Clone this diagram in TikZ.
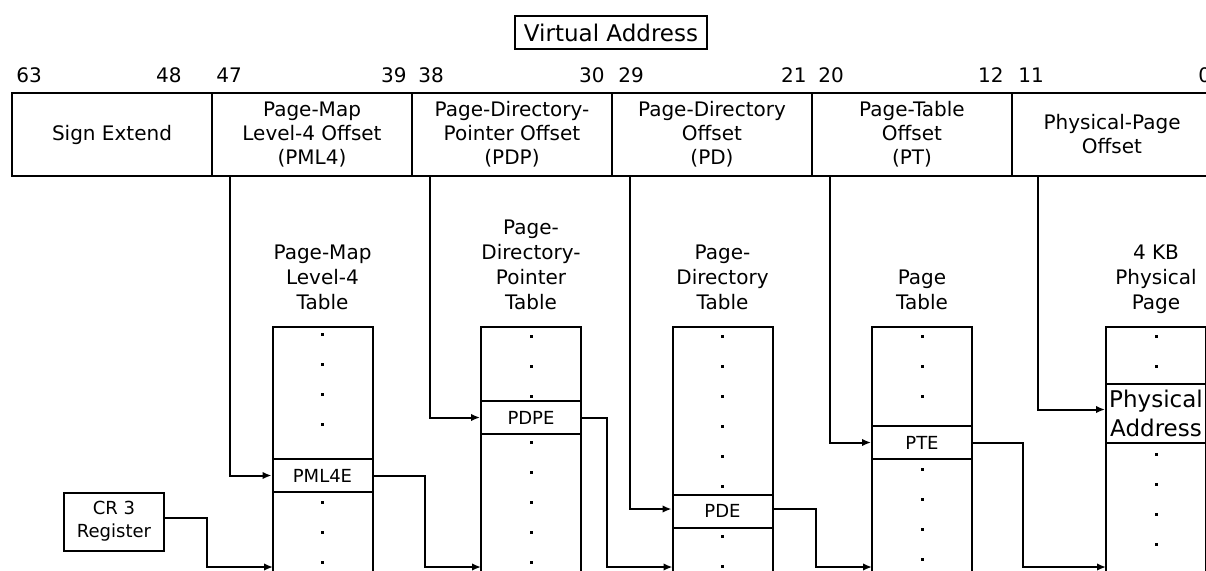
\documentclass[tikz,border=0pt]{standalone}
\usepackage{fontspec}
\setmainfont{DejaVu Sans}
\usetikzlibrary{arrows.meta}

\begin{document}
\begin{tikzpicture}[
  x=0.5pt, y=-0.5pt,
  every node/.style={align=center, font=\fontsize{10}{12}\selectfont},
  field/.style={draw, line width=1pt, minimum width=100pt,
                minimum height=41.5pt, inner sep=0pt},
  bitno/.style={inner sep=0pt},
  title/.style={anchor=south, inner sep=0pt,
                font=\fontsize{10}{12.5}\selectfont, execute at end node=\strut},
  tblbox/.style={draw, line width=1pt, anchor=north, minimum width=50pt,
                 minimum height=150pt},
  entry/.style={draw, line width=1pt, minimum width=50pt, minimum height=16.5pt,
                inner sep=0pt, font=\fontsize{9}{11}\selectfont},
  regbox/.style={draw, line width=1pt, minimum width=50pt, minimum height=29pt,
                 inner sep=0pt, font=\fontsize{9}{11.5}\selectfont},
  arr/.style={-{Latex[length=4.5pt,width=3.8pt]}, line width=1pt}
]
  \useasboundingbox (0,0) rectangle (1206,570);
  \clip (0,0) rectangle (1206,570);

  % virtual address
  \node[draw, line width=1pt, inner xsep=4.5pt, minimum height=16.5pt,
        font=\fontsize{11.5}{14}\selectfont] (va) at (611,32.5) {Virtual Address};

  \node[bitno, anchor=base west] (b63) at (16,82) {63};
  \node[bitno, anchor=base east] (b48) at (182,82) {48};
  \node[bitno, anchor=base west] (b47) at (216,82) {47};
  \node[bitno, anchor=base east] (b39) at (407,82) {39};
  \node[bitno, anchor=base west] (b38) at (418,82) {38};
  \node[bitno, anchor=base east] (b30) at (605,82) {30};
  \node[bitno, anchor=base west] (b29) at (618,82) {29};
  \node[bitno, anchor=base east] (b21) at (807,82) {21};
  \node[bitno, anchor=base west] (b20) at (818,82) {20};
  \node[bitno, anchor=base east] (b12) at (1004,82) {12};
  \node[bitno, anchor=base west] (b11) at (1018,82) {11};
  \node[bitno, anchor=base west] (b0) at (1198,82) {0};

  \node[field] (sign) at (112,134.5) {Sign Extend};
  \node[field] (pml4) at (312,134.5) {Page-Map\\Level-4 Offset\\(PML4)};
  \node[field] (pdp) at (512,134.5) {Page-Directory-\\Pointer Offset\\(PDP)};
  \node[field] (pd) at (712,134.5) {Page-Directory\\Offset\\(PD)};
  \node[field] (pt) at (912,134.5) {Page-Table\\Offset\\(PT)};
  \node[field] (ppo) at (1112,134.5) {Physical-Page\\Offset};

  % tables
  \node[tblbox] (pml4tab) at (322.5,326) {};
  \node[tblbox] (pdptab) at (531,326) {};
  \node[tblbox] (pdtab) at (722.5,326) {};
  \node[tblbox] (pttab) at (922,326) {};
  \node[tblbox] (phystab) at (1156,326) {};

  \node[title] (pml4tit) at (322.5,317) {Page-Map\\Level-4\\Table};
  \node[title] (pdptit) at (531,317) {Page-\\Directory-\\Pointer\\Table};
  \node[title] (pdtit) at (722.5,317) {Page-\\Directory\\Table};
  \node[title] (pttit) at (922,317) {Page\\Table};
  \node[title] (phystit) at (1156,317) {4 KB\\Physical\\Page};

  \node[entry] (pml4e) at (322.5,475.5) {PML4E};
  \node[entry] (pdpe) at (531,417.5) {PDPE};
  \node[entry] (pde) at (722.5,511) {PDE};
  \node[entry] (pte) at (922,442.5) {PTE};
  \node[entry, minimum height=29.5pt, font=\fontsize{11.5}{14.5}\selectfont]
    (pa) at (1156,413.5) {Physical\\Address};

  \foreach \y in {334,364,394,424,502,532,562}
    \fill (322.5,\y) +(-1.5,-1.5) rectangle +(1.5,1.5);
  \foreach \y in {336,366,396,442,472,502,532,562}
    \fill (531,\y) +(-1.5,-1.5) rectangle +(1.5,1.5);
  \foreach \y in {336,366,396,426,456,486,536,566}
    \fill (722.5,\y) +(-1.5,-1.5) rectangle +(1.5,1.5);
  \foreach \y in {336,366,396,469,499,529,559}
    \fill (922,\y) +(-1.5,-1.5) rectangle +(1.5,1.5);
  \foreach \y in {336,366,454,484,514,544}
    \fill (1156,\y) +(-1.5,-1.5) rectangle +(1.5,1.5);

  \node[regbox] (cr3) at (114,521.5) {CR 3\\Register};

  % offsets into the tables
  \draw[arr] ([xshift=9.5pt]pml4.south west) |- (pml4e.west);
  \draw[arr] ([xshift=9.5pt]pdp.south west) |- (pdpe.west);
  \draw[arr] ([xshift=9.5pt]pd.south west) |- ([yshift=1pt]pde.west);
  \draw[arr] ([xshift=9.5pt]pt.south west) |- (pte.west);
  \draw[arr] ([xshift=13.5pt]ppo.south west) |- ([yshift=2pt]pa.west);

  % table bases
  \coordinate (pml4in) at (273,567);
  \coordinate (pdpin) at (481,567);
  \coordinate (pdin) at (672.5,567);
  \coordinate (ptin) at (872,567);
  \coordinate (physin) at (1106,567);

  \draw[arr] ([yshift=2pt]cr3.east) -- ++(42,0) |- (pml4in);
  \draw[arr] (pml4e.east) -- ++(51,0) |- (pdpin);
  \draw[arr] (pdpe.east) -- ++(25,0) |- (pdin);
  \draw[arr] ([yshift=1pt]pde.east) -- ++(42,0) |- (ptin);
  \draw[arr] (pte.east) -- ++(50,0) |- (physin);
\end{tikzpicture}
\end{document}
